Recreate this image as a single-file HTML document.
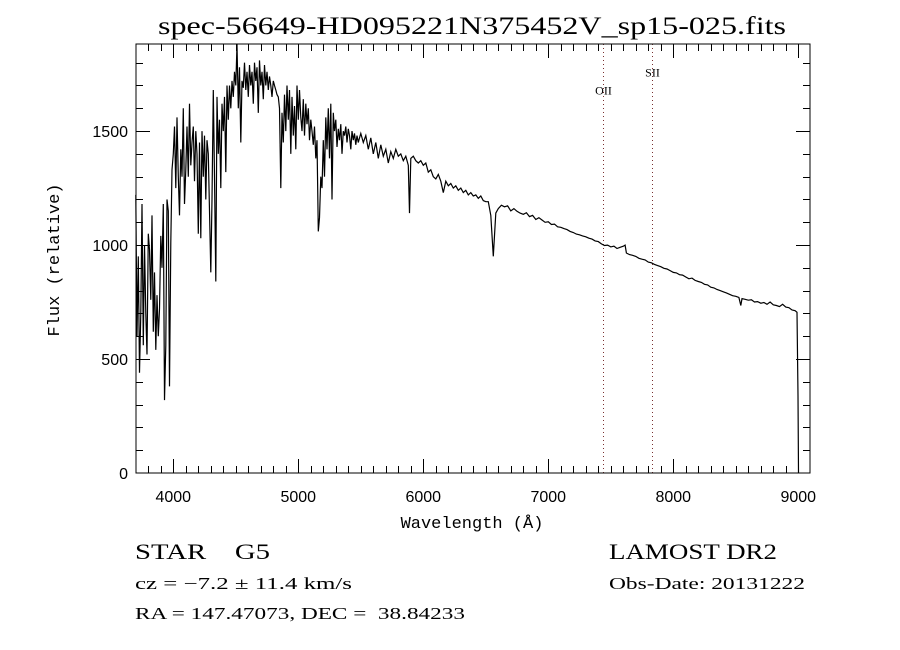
<!DOCTYPE html>
<html><head><meta charset="utf-8"><style>
html,body{margin:0;padding:0;background:#fff;}
svg{display:block;}
.tk{font-family:"Liberation Sans",sans-serif;font-size:16px;fill:#000;}
.mono{font-family:"Liberation Mono",monospace;font-size:17px;fill:#000;}
.ser{font-family:"Liberation Serif",serif;fill:#000;}
</style></head><body>
<svg id="chart" width="900" height="650" viewBox="0 0 900 650">
<rect x="0" y="0" width="900" height="650" fill="#fff"/>
<text class="ser" x="158" y="34" font-size="25" textLength="628" lengthAdjust="spacingAndGlyphs">spec-56649-HD095221N375452V_sp15-025.fits</text>
<g id="marks"></g>
<rect x="136" y="44" width="674" height="429" fill="none" stroke="#000" stroke-width="1"/>
<g id="axes"></g>
<text class="mono" x="472" y="528" text-anchor="middle">Wavelength (Å)</text>
<text class="mono" x="0" y="0" text-anchor="middle" transform="translate(59,260) rotate(-90)">Flux (relative)</text>
<text class="ser" x="135" y="559" font-size="22" textLength="135" lengthAdjust="spacingAndGlyphs">STAR&#160;&#160;&#160;&#160;G5</text>
<text class="ser" x="135" y="589" font-size="17" textLength="217" lengthAdjust="spacingAndGlyphs">cz = −7.2 ± 11.4 km/s</text>
<text class="ser" x="135" y="619" font-size="17" textLength="330" lengthAdjust="spacingAndGlyphs">RA = 147.47073, DEC = &#160;38.84233</text>
<text class="ser" x="609" y="559" font-size="22" textLength="168" lengthAdjust="spacingAndGlyphs">LAMOST DR2</text>
<text class="ser" x="609" y="589" font-size="17" textLength="196" lengthAdjust="spacingAndGlyphs">Obs-Date: 20131222</text>
</svg>
<script>
const xTicks = [4000,5000,6000,7000,8000,9000];
const yTicks = [0,500,1000,1500];
const lineNames = ["OII","SII"];
const lineWaves = [7438,7830];
const lineLabelFlux = [1660,1740];
const wave = [3700,3710,3720,3730,3740,3750,3760,3770,3780,3790,3800,3810,3820,3830,3840,3850,3860,3870,3880,3890,3900,3910,3920,3930,3940,3950,3960,3970,3980,3990,
4000,4010,4020,4030,4040,4050,4060,4070,4080,4090,4100,4110,4120,4130,4140,4150,4160,4170,4180,4190,4200,4210,4220,4230,4240,4250,4260,4270,4280,4290,4300,4310,4320,4330,4340,4350,4360,4370,4380,4390,4400,4410,4420,4430,4440,4450,4460,4470,4480,4490,
4500,4510,4520,4530,4540,4550,4560,4570,4580,4590,4600,4610,4620,4630,4640,4650,4660,4670,4680,4690,4700,4710,4720,4730,4740,4750,4760,4770,4780,4790,4800,4810,4820,4830,4840,4850,4860,4870,4880,4890,4900,4910,4920,4930,4940,4950,4960,4970,4980,4990,
5000,5010,5020,5030,5040,5050,5060,5070,5080,5090,5100,5110,5120,5130,5140,5150,5160,5170,5180,5190,5200,5210,5220,5230,5240,5250,5260,5270,5280,5290,5300,5310,5320,5330,5340,5350,5360,5370,5380,5390,5400,5410,5420,5430,5440,5450,5460,5470,5480,5490,
5500,5520,5540,5560,5580,5600,5620,5640,5660,5680,5700,5720,5740,5760,5780,5800,5820,5840,5860,5880,5890,5900,5920,5940,5960,5980,6000,6020,6040,6060,6080,6100,6120,6140,6160,6180,6200,6220,6240,6260,6280,6300,6320,6340,6360,6380,6400,6420,6440,6460,6480,6500,6520,6540,6560,6580,
6600,6625,6650,6675,6700,6725,6750,6775,6800,6825,6850,6875,6900,6925,6950,6975,7000,7025,7050,7075,7100,7125,7150,7175,7200,7225,7250,7275,7300,7325,7350,7375,7400,7425,7450,7475,7500,7525,7550,7575,7600,7615,7625,7650,7675,7700,7725,7750,7775,7800,7825,7850,7875,7900,7925,7950,7975,8000,8025,8050,8075,8100,8125,8150,8175,8200,8225,8250,8275,8300,8325,8350,8375,8400,8425,8450,8475,8500,8525,8540,8550,8575,8600,8625,8650,8675,8700,8725,8750,8775,8800,8825,8850,8875,8900,8925,8950,8975,8990,8998,9002];
const flux = [1220,600,950,440,700,1180,560,1000,700,520,1050,980,760,1130,620,880,540,780,600,720,1040,900,1180,320,560,1200,1150,380,1010,1330,
1400,1520,1250,1560,1300,1130,1420,1300,1600,1180,1330,1520,1300,1620,1350,1450,1520,1280,1500,1400,1050,1450,1030,1500,1300,1480,1200,1460,1400,1150,880,1200,1680,1300,840,1650,1400,1550,1250,1620,1500,1650,1320,1700,1550,1700,1600,1720,1650,1760,
1700,1880,1600,1780,1450,1720,1690,1800,1680,1760,1650,1790,1700,1760,1620,1800,1720,1780,1580,1810,1700,1760,1640,1790,1700,1760,1680,1740,1700,1650,1720,1700,1680,1660,1650,1600,1250,1580,1450,1660,1500,1700,1550,1680,1400,1650,1480,1610,1420,1700,
1550,1680,1560,1500,1640,1480,1620,1530,1600,1460,1550,1500,1440,1520,1380,1460,1060,1120,1300,1250,1460,1300,1560,1420,1600,1380,1620,1200,1580,1500,1550,1430,1510,1460,1530,1400,1500,1480,1520,1450,1510,1480,1420,1500,1460,1490,1440,1480,1450,1470,
1490,1450,1480,1420,1470,1400,1450,1380,1440,1390,1420,1360,1410,1380,1420,1390,1400,1370,1390,1350,1140,1380,1390,1370,1360,1370,1350,1360,1320,1330,1300,1290,1310,1280,1230,1280,1260,1270,1250,1260,1240,1250,1230,1240,1220,1230,1215,1220,1205,1215,1195,1190,1190,1130,950,1140,
1160,1175,1168,1172,1150,1160,1148,1140,1135,1142,1125,1130,1112,1120,1110,1100,1102,1090,1092,1080,1078,1072,1068,1060,1055,1048,1045,1040,1036,1030,1026,1018,1015,1005,998,1000,992,995,985,990,995,1000,965,958,955,950,942,938,935,925,922,915,910,905,898,895,888,880,878,870,868,860,852,855,845,840,836,828,825,815,812,805,800,795,790,784,778,775,770,735,765,762,758,760,750,752,745,748,740,750,738,735,730,740,728,725,715,712,705,340,0];

const X0=136, X1=810, Y0=473, Y1=44;
const W0=3702, W1=9094, F0=0, F1=1882;
function xs(w){return X0+(w-W0)/(W1-W0)*(X1-X0);}
function ys(f){return Y0-(f-F0)/(F1-F0)*(Y0-Y1);}
const NS="http://www.w3.org/2000/svg";
const marks=document.getElementById('marks');
const axes=document.getElementById('axes');

for(let i=0;i<lineNames.length;i++){
  const lx=Math.round(xs(lineWaves[i]))+0.5;
  const l=document.createElementNS(NS,'line');
  
  
  l.setAttribute('x1',lx);l.setAttribute('x2',lx);l.setAttribute('y1',Y1);l.setAttribute('y2',Y0);
  l.setAttribute('stroke','#7a3030');l.setAttribute('stroke-width','1');l.setAttribute('stroke-dasharray','1,3');
  marks.appendChild(l);
  const t=document.createElementNS(NS,'text');
  
  
  t.setAttribute('x',lx);t.setAttribute('y',ys(lineLabelFlux[i]));
  t.setAttribute('text-anchor','middle');t.setAttribute('font-size','12');
  t.setAttribute('font-family','Liberation Serif, serif');
  t.textContent=lineNames[i];
  marks.appendChild(t);
}
let pts=[];
for(let i=0;i<wave.length;i++){pts.push(xs(wave[i]).toFixed(1)+','+ys(flux[i]).toFixed(1));}
const pl=document.createElementNS(NS,'polyline');


pl.setAttribute('points',pts.join(' '));
pl.setAttribute('fill','none');pl.setAttribute('stroke','#000');pl.setAttribute('stroke-width','1.2');pl.setAttribute('stroke-linejoin','miter');
marks.appendChild(pl);

function tick(x1,y1,x2,y2){
  const l=document.createElementNS(NS,'line');
  
  
  l.setAttribute('x1',x1);l.setAttribute('y1',y1);l.setAttribute('x2',x2);l.setAttribute('y2',y2);
  l.setAttribute('stroke','#000');l.setAttribute('stroke-width','1');
  axes.appendChild(l);
}
for(let w=3800;w<=9000;w+=100){
  const x=Math.round(xs(w))+0.5;
  const major=(w%1000===0);
  const len=major?14:7;
  tick(x,Y0,x,Y0-len);tick(x,Y1,x,Y1+len);
}
for(let f=100;f<=1800;f+=100){
  const y=Math.round(ys(f))+0.5;
  const major=(f%500===0);
  const len=major?14:7;
  tick(X0,y,X0+len,y);tick(X1,y,X1-len,y);
}
for(let i=0;i<xTicks.length;i++){
  const t=document.createElementNS(NS,'text');
  
  
  t.setAttribute('class','tk');
  t.setAttribute('x',xs(xTicks[i]));t.setAttribute('y',502);t.setAttribute('text-anchor','middle');
  t.textContent=xTicks[i];
  axes.appendChild(t);
}
for(let i=0;i<yTicks.length;i++){
  const t=document.createElementNS(NS,'text');
  
  
  t.setAttribute('class','tk');
  t.setAttribute('x',128);t.setAttribute('y',ys(yTicks[i])+6);t.setAttribute('text-anchor','end');
  t.textContent=yTicks[i];
  axes.appendChild(t);
}
</script>
</body></html>
